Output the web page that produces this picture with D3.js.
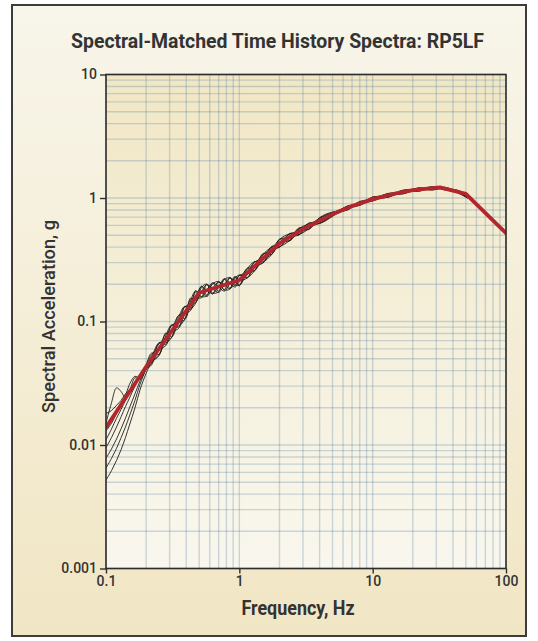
<!DOCTYPE html>
<html><head><meta charset="utf-8">
<script src="https://cdn.jsdelivr.net/npm/d3@7"></script>
<style>body{margin:0;background:#fff}svg{display:block}</style>
</head><body>
<svg id="chart" width="538" height="641"></svg>
<script>
// ---------- DATA ----------
const chartTitle = "Spectral-Matched Time History Spectra: RP5LF";
const xAxisTitle = "Frequency, Hz";
const yAxisTitle = "Spectral Acceleration, g";
const xTickValues = [0.1, 1, 10, 100];
const xTickLabels = ["0.1", "1", "10", "100"];
const yTickValues = [0.001, 0.01, 0.1, 1, 10];
const yTickLabels = ["0.001", "0.01", "0.1", "1", "10"];

// target spectrum (red)
const targetFreq = [0.1, 0.2, 0.5, 1, 2, 3, 5, 7, 10, 15, 20, 32, 50, 100];
const targetSA   = [0.0139, 0.043, 0.171, 0.216, 0.43, 0.56, 0.74, 0.86, 0.98, 1.09, 1.16, 1.22, 1.08, 0.52];

// spectral-matched time histories (black)
const histFreq = [0.1, 0.11, 0.12, 0.13, 0.14, 0.15, 0.165, 0.18, 0.2, 0.22, 0.25, 0.28, 0.31, 0.35, 0.39, 0.43, 0.47, 0.52, 0.57, 0.63, 0.7, 0.77, 0.85, 0.93, 1.0, 1.15, 1.3, 1.5, 1.75, 2.0, 2.4, 2.8, 3.3, 4.0, 5.0, 6.5, 8, 10, 13, 17, 22, 28, 35, 45, 60, 80, 100];
const histA = [0.018, 0.019, 0.021, 0.023, 0.026, 0.028, 0.032, 0.037, 0.045, 0.0556, 0.0541, 0.0806, 0.0757, 0.1118, 0.1058, 0.155, 0.1435, 0.1938, 0.1629, 0.2054, 0.1757, 0.2218, 0.1856, 0.2321, 0.1944, 0.2703, 0.2576, 0.3553, 0.3497, 0.4644, 0.4501, 0.5725, 0.5546, 0.6943, 0.77, 0.80, 0.94, 0.95, 1.09, 1.08, 1.21, 1.16, 1.22, 1.08, 0.90, 0.65, 0.51];
const histB = [0.015, 0.022, 0.029, 0.027, 0.024, 0.027, 0.035, 0.034, 0.041, 0.0446, 0.0673, 0.0649, 0.0940, 0.0898, 0.1316, 0.1251, 0.1778, 0.1574, 0.2005, 0.1665, 0.2120, 0.1802, 0.2285, 0.1941, 0.2376, 0.2257, 0.3052, 0.2972, 0.4061, 0.3999, 0.5179, 0.5029, 0.6254, 0.6223, 0.71, 0.865, 0.87, 1.02, 1.01, 1.16, 1.13, 1.23, 1.16, 1.13, 0.87, 0.67, 0.525];
const histC = [0.013, 0.015, 0.018, 0.021, 0.025, 0.031, 0.036, 0.035, 0.044, 0.0521, 0.0673, 0.0670, 0.0740, 0.1078, 0.1328, 0.1265, 0.1404, 0.1886, 0.2005, 0.1702, 0.1738, 0.2178, 0.2264, 0.1983, 0.1966, 0.2678, 0.3052, 0.3036, 0.3497, 0.4601, 0.5130, 0.5083, 0.5605, 0.6812, 0.755, 0.85, 0.88, 1.00, 1.03, 1.15, 1.15, 1.22, 1.17, 1.12, 0.90, 0.66, 0.515];
const histD = [0.011, 0.0135, 0.0165, 0.0195, 0.023, 0.026, 0.031, 0.037, 0.042, 0.0471, 0.0529, 0.0763, 0.0932, 0.0918, 0.1046, 0.1469, 0.1763, 0.1592, 0.1611, 0.2017, 0.2101, 0.1802, 0.1836, 0.2258, 0.2376, 0.2282, 0.2576, 0.3456, 0.3986, 0.4042, 0.4550, 0.5618, 0.6136, 0.6288, 0.725, 0.815, 0.925, 0.96, 1.07, 1.10, 1.19, 1.18, 1.21, 1.10, 0.885, 0.655, 0.52];
const histE = [0.0095, 0.0115, 0.014, 0.017, 0.0205, 0.024, 0.030, 0.036, 0.044, 0.0541, 0.0601, 0.0635, 0.0832, 0.1118, 0.1175, 0.1224, 0.156, 0.1920, 0.179, 0.1684, 0.191, 0.2218, 0.204, 0.1899, 0.216, 0.2703, 0.280, 0.2972, 0.376, 0.4601, 0.484, 0.5029, 0.590, 0.6878, 0.765, 0.835, 0.93, 0.985, 1.085, 1.12, 1.20, 1.19, 1.20, 1.105, 0.89, 0.66, 0.52];
const histF = [0.0078, 0.0093, 0.0112, 0.0136, 0.0165, 0.0200, 0.026, 0.033, 0.042, 0.0456, 0.0601, 0.0791, 0.0832, 0.0878, 0.1175, 0.1496, 0.156, 0.1557, 0.179, 0.2054, 0.191, 0.1762, 0.204, 0.2300, 0.216, 0.2257, 0.280, 0.3488, 0.376, 0.3999, 0.484, 0.5671, 0.590, 0.6223, 0.715, 0.83, 0.875, 0.975, 1.015, 1.12, 1.14, 1.20, 1.18, 1.11, 0.89, 0.658, 0.522];
const histG = [0.0065, 0.0078, 0.0094, 0.0115, 0.014, 0.0172, 0.023, 0.031, 0.041, 0.0496, 0.0661, 0.0713, 0.0740, 0.0998, 0.1316, 0.136, 0.1420, 0.173, 0.1987, 0.185, 0.1719, 0.198, 0.2244, 0.211, 0.1966, 0.248, 0.3024, 0.323, 0.3497, 0.430, 0.5130, 0.535, 0.5605, 0.655, 0.74, 0.86, 0.90, 1.015, 1.05, 1.155, 1.17, 1.235, 1.19, 1.14, 0.89, 0.665, 0.524];
const histH = [0.0052, 0.0062, 0.0075, 0.0092, 0.0115, 0.0145, 0.020, 0.028, 0.038, 0.047, 0.0541, 0.0713, 0.0924, 0.0998, 0.1034, 0.136, 0.1716, 0.173, 0.1593, 0.185, 0.2082, 0.198, 0.1836, 0.211, 0.2354, 0.248, 0.2576, 0.323, 0.4023, 0.430, 0.4550, 0.535, 0.6195, 0.655, 0.74, 0.805, 0.905, 0.945, 1.05, 1.085, 1.17, 1.165, 1.19, 1.085, 0.895, 0.652, 0.514];
const histories = [histA, histB, histC, histD, histE, histF, histG, histH];

// ---------- DRAW ----------
const svg = d3.select("#chart");
const P = {left: 106, right: 506, top: 74.5, bottom: 568.5};
const x = d3.scaleLog().domain([0.1, 100]).range([P.left, P.right]);
const y = d3.scaleLog().domain([0.001, 10]).range([P.bottom, P.top]);

const defs = svg.append("defs");
const g1 = defs.append("linearGradient").attr("id", "outerGrad").attr("x1", 0).attr("y1", 0).attr("x2", 0).attr("y2", 1);
g1.append("stop").attr("offset", "0%").attr("stop-color", "#f8f5ea");
g1.append("stop").attr("offset", "100%").attr("stop-color", "#f1e6c4");
const g2 = defs.append("linearGradient").attr("id", "plotGrad").attr("x1", 0).attr("y1", 0).attr("x2", 0).attr("y2", 1);
g2.append("stop").attr("offset", "0%").attr("stop-color", "#f1e7c5");
g2.append("stop").attr("offset", "100%").attr("stop-color", "#f9f7ee");
defs.append("clipPath").attr("id", "clip").append("rect")
  .attr("x", P.left).attr("y", P.top).attr("width", P.right - P.left).attr("height", P.bottom - P.top);

// outer panel
svg.append("rect").attr("x", 12).attr("y", 5).attr("width", 514).attr("height", 631)
  .attr("fill", "url(#outerGrad)").attr("stroke", "#3c3c3c").attr("stroke-width", 2);

// plot background
svg.append("rect").attr("x", P.left).attr("y", P.top).attr("width", P.right - P.left).attr("height", P.bottom - P.top)
  .attr("fill", "url(#plotGrad)");

// grid
const grid = svg.append("g").attr("stroke", "#5b86a8").attr("stroke-opacity", 0.3).attr("stroke-width", 1.4);
grid.selectAll("line.v").data(x.ticks()).join("line").attr("class", "v")
  .attr("x1", d => x(d)).attr("x2", d => x(d)).attr("y1", P.top).attr("y2", P.bottom);
grid.selectAll("line.h").data(y.ticks()).join("line").attr("class", "h")
  .attr("y1", d => y(d)).attr("y2", d => y(d)).attr("x1", P.left).attr("x2", P.right);

// curves
const plot = svg.append("g").attr("clip-path", "url(#clip)");
const histLine = d3.line().x((d, i) => x(histFreq[i])).y(d => y(d)).curve(d3.curveCatmullRom.alpha(0.5));
plot.selectAll("path.hist").data(histories).join("path").attr("class", "hist")
  .attr("d", d => histLine(d)).attr("fill", "none").attr("stroke", "#1f1f1f").attr("stroke-width", 0.9);
const tLine = d3.line().x((d, i) => x(targetFreq[i])).y(d => y(d));
plot.append("path").attr("d", tLine(targetSA)).attr("fill", "none")
  .attr("stroke", "#b3262c").attr("stroke-width", 3.8).attr("stroke-linejoin", "round").attr("stroke-linecap", "round");

// frame
svg.append("rect").attr("x", P.left).attr("y", P.top).attr("width", P.right - P.left).attr("height", P.bottom - P.top)
  .attr("fill", "none").attr("stroke", "#2e2e2e").attr("stroke-width", 1.6);

// axes
const xAxis = d3.axisBottom(x).tickValues(xTickValues).tickFormat((d, i) => xTickLabels[i]).tickSize(5).tickPadding(3);
const gx = svg.append("g").attr("transform", `translate(0,${P.bottom})`).call(xAxis);
const yAxis = d3.axisLeft(y).tickValues(yTickValues).tickFormat((d, i) => yTickLabels[i]).tickSize(6).tickPadding(3);
const gy = svg.append("g").attr("transform", `translate(${P.left},0)`).call(yAxis);
[gx, gy].forEach(g => {
  g.select(".domain").remove();
  g.selectAll(".tick line").attr("stroke", "#2e2e2e").attr("stroke-width", 1.4);
  g.selectAll(".tick text").attr("fill", "#333").attr("font-family", "Roboto, 'Liberation Sans', sans-serif")
    .attr("font-size", 14).attr("font-weight", 500);
});

// titles
svg.append("text").attr("x", 277.5).attr("y", 48).attr("text-anchor", "middle")
  .attr("font-family", "Roboto, 'Liberation Sans', sans-serif").attr("font-weight", 700).attr("font-size", 19.5)
  .attr("fill", "#333").attr("textLength", 413).attr("lengthAdjust", "spacingAndGlyphs").text(chartTitle);
svg.append("text").attr("x", 298).attr("y", 615).attr("text-anchor", "middle")
  .attr("font-family", "Roboto, 'Liberation Sans', sans-serif").attr("font-weight", 700).attr("font-size", 19.5)
  .attr("fill", "#333").attr("textLength", 113).attr("lengthAdjust", "spacingAndGlyphs").text(xAxisTitle);
svg.append("text").attr("transform", "translate(55,316.5) rotate(-90)").attr("text-anchor", "middle")
  .attr("font-family", "Roboto, 'Liberation Sans', sans-serif").attr("font-weight", 500).attr("font-size", 18.5)
  .attr("fill", "#333").attr("textLength", 193).attr("lengthAdjust", "spacingAndGlyphs").text(yAxisTitle);
</script>
</body></html>
